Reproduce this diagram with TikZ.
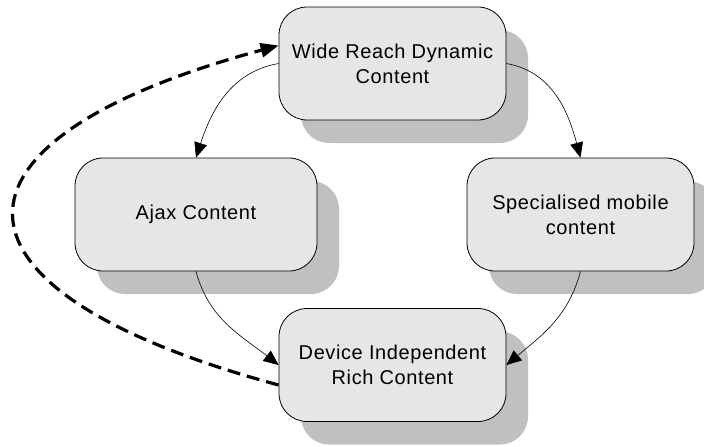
\documentclass[tikz,border=0pt]{standalone}
\usepackage{fontspec}
\setmainfont[LetterSpace=3]{Liberation Sans}
\usetikzlibrary{shadows,arrows.meta}
\definecolor{boxgray}{RGB}{230,230,230}
\definecolor{shadegray}{RGB}{192,192,192}

\begin{document}
\begin{tikzpicture}[x=1pt,y=-1pt,
    state/.style={draw, line width=0.8pt, rounded corners=28pt, fill=boxgray,
      minimum width=227pt, minimum height=113pt, align=center,
      font=\fontsize{20}{25}\selectfont,
      drop shadow={shadow xshift=22pt, shadow yshift=-23pt, fill=shadegray, opacity=1}},
    flow/.style={-{Triangle[length=15pt,width=13pt]}, line width=0.6pt},
    back/.style={-{Triangle[length=18pt,width=14pt]}, line width=3.2pt, dash pattern=on 13pt off 7pt}]
    \useasboundingbox (0,0) rectangle (704,447);
    \node[state] (wide) at (392.5,63.5) {Wide Reach Dynamic\\Content};
    \node[state, minimum width=242pt] (ajax) at (196,214.5) {Ajax Content};
    \node[state] (mobile) at (580.5,214.5) {Specialised mobile\\content};
    \node[state] (device) at (392.5,365) {Device Independent\\Rich Content};
    \draw[flow] (wide.west) to[out=190,in=72] (ajax.north);
    \draw[flow] (wide.east) to[out=-10,in=105] (mobile.north);
    \draw[flow] (ajax.south) to[out=-75,in=142] (device.west);
    \draw[flow] (mobile.south) to[out=-105,in=40] (device.east);
    \draw[back] ([yshift=-20pt]device.west) .. controls +(-352,-95) and +(-352,95) .. ([yshift=18pt]wide.west);
\end{tikzpicture}
\end{document}
